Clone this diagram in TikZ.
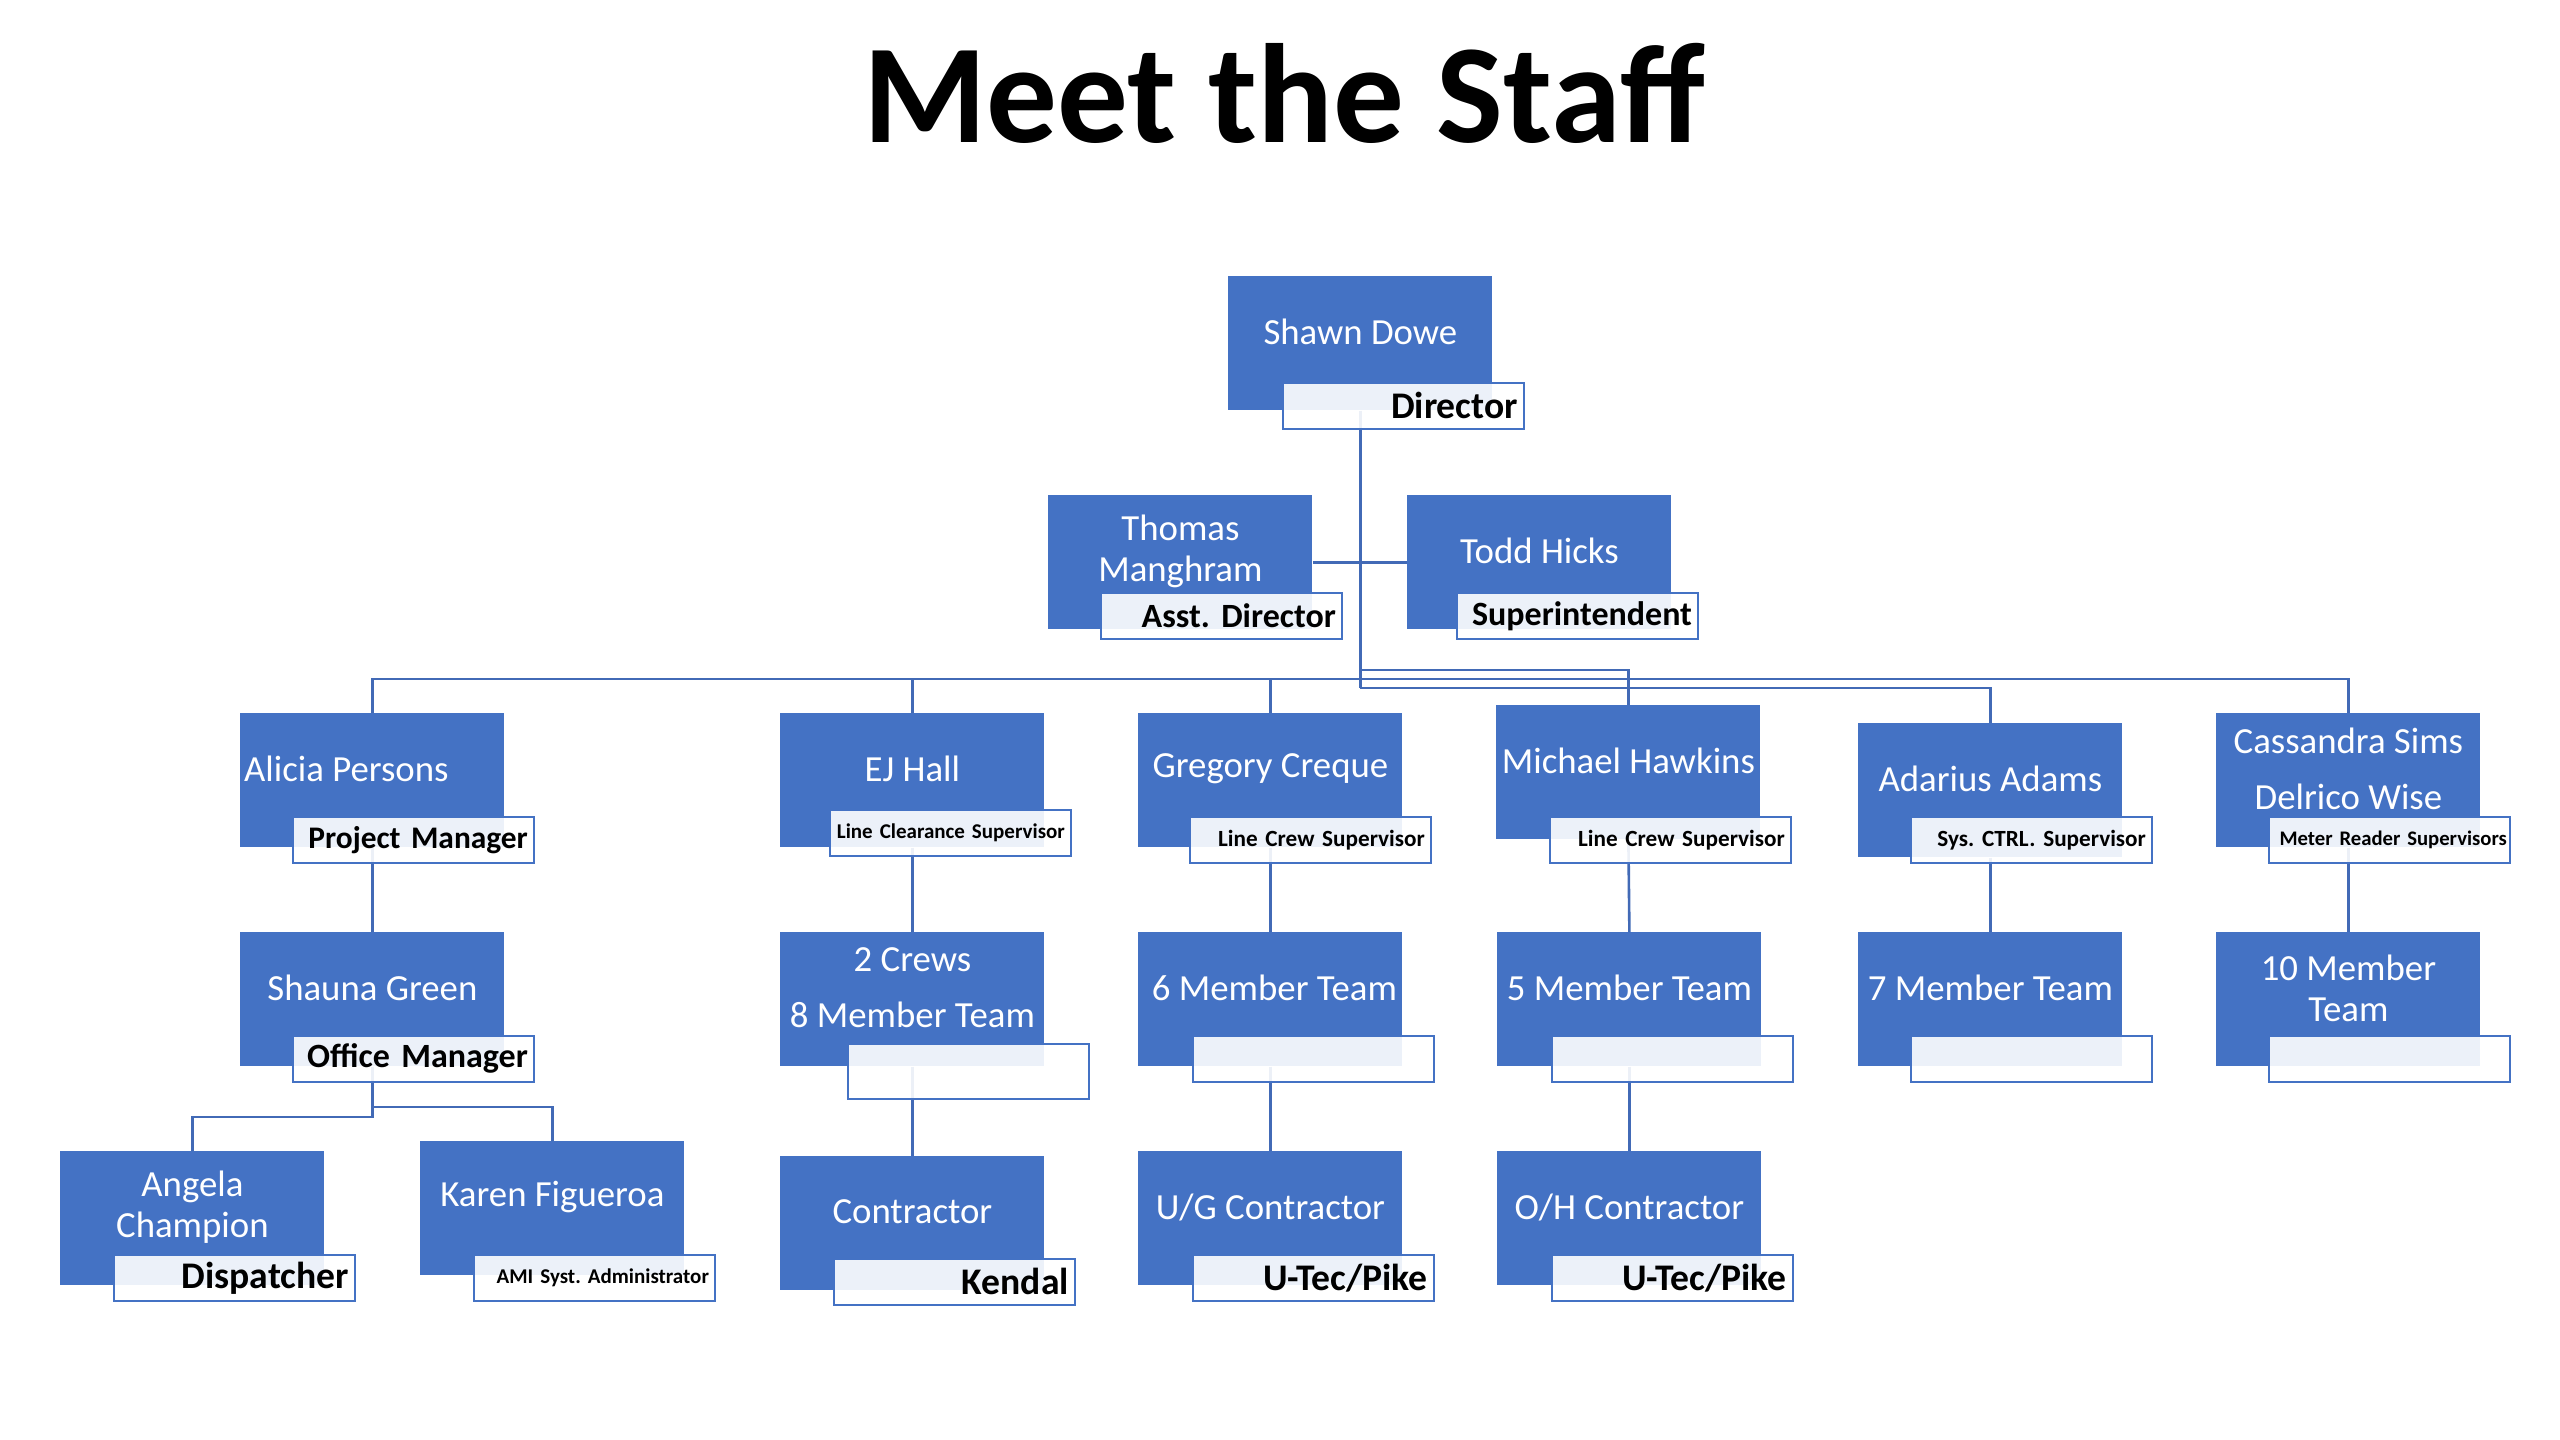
\documentclass[tikz,border=0pt]{standalone}
\usepackage{fontspec}
\setmainfont{Carlito}
\frenchspacing
\definecolor{boxblue}{RGB}{68,114,196}
\definecolor{lineblue}{RGB}{66,106,182}
\tikzset{
  bluebox/.style={fill=boxblue, draw=none, minimum width=132pt, minimum height=67pt, inner sep=0pt, anchor=north west},
  lab/.style={draw=boxblue, line width=0.9pt, fill=white, fill opacity=0.9, text opacity=1, minimum width=120.5pt, minimum height=23pt, inner xsep=3pt, inner ysep=0pt, text width=114.5pt, align=right, anchor=north west, text=black, font=\bfseries\frenchspacing},
  tall/.style={minimum height=27.5pt},
  nm/.style={text=white, align=center, font=\fontsize{18.4pt}{20.5pt}\selectfont, inner sep=0pt},
  wide/.style={font=\fontsize{18.4pt}{28pt}\selectfont},
  conn/.style={draw=lineblue, line width=1.3pt},
  fA/.style={font=\bfseries\fontsize{18.8pt}{20pt}\selectfont},
  fB/.style={font=\bfseries\fontsize{17pt}{20pt}\selectfont},
  fC/.style={font=\bfseries\fontsize{15.7pt}{19pt}\selectfont},
  fD/.style={font=\bfseries\fontsize{17pt}{19pt}\selectfont},
  fS/.style={font=\bfseries\fontsize{11.6pt}{13pt}\selectfont},
  fT/.style={font=\bfseries\fontsize{10.5pt}{12pt}\selectfont},
  fU/.style={font=\bfseries\fontsize{10.35pt}{12pt}\selectfont, inner xsep=1.5pt, text width=117.5pt},
}
\begin{document}
\begin{tikzpicture}[x=0.5pt, y=-0.5pt]
\fill[white] (0,0) rectangle (2560,1440);
\useasboundingbox (0,0) rectangle (2560,1440);

\node[font=\bfseries\fontsize{70.6pt}{80pt}\selectfont, anchor=base, inner sep=0pt] (title) at (1284,142) {Meet the Staff};

% blue boxes
\node[bluebox] (shawn) at (1228,276) {};
\node[bluebox] (thomas) at (1048,495) {};
\node[bluebox] (todd) at (1407,495) {};
\node[bluebox] (alicia) at (240,713) {};
\node[bluebox] (ej) at (780,713) {};
\node[bluebox] (greg) at (1138,713) {};
\node[bluebox] (mich) at (1496,705) {};
\node[bluebox] (ada) at (1858,723) {};
\node[bluebox] (cass) at (2216,713) {};
\node[bluebox] (shauna) at (240,932) {};
\node[bluebox] (crews) at (780,932) {};
\node[bluebox] (six) at (1138,932) {};
\node[bluebox] (five) at (1497,932) {};
\node[bluebox] (seven) at (1858,932) {};
\node[bluebox] (ten) at (2216,932) {};
\node[bluebox] (ang) at (60,1151) {};
\node[bluebox] (kar) at (420,1141) {};
\node[bluebox] (con) at (780,1156) {};
\node[bluebox] (ug) at (1138,1151) {};
\node[bluebox] (oh) at (1497,1151) {};

% connectors
\draw[conn] (shawn.south) -- (shawn.south |- 0,688);
\draw[conn] (thomas.east) -- (todd.west);
\draw[conn] (alicia.north) -- (alicia.north |- 0,679) -- (cass.north |- 0,679) -- (cass.north);
\draw[conn] (ej.north) -- (ej.north |- 0,679);
\draw[conn] (greg.north) -- (greg.north |- 0,679);
\draw[conn] (shawn.south |- 0,670) -| (mich.north);
\draw[conn] (shawn.south |- 0,688) -| (ada.north);
\draw[conn] (alicia.south) -- (shauna.north);
\draw[conn] (ej.south) -- (crews.north);
\draw[conn] (greg.south) -- (six.north);
\draw[conn] (mich.south) -- (five.north);
\draw[conn] (ada.south) -- (seven.north);
\draw[conn] (cass.south) -- (ten.north);
\draw[conn] (shauna.south) -- (shauna.south |- 0,1117) -| (ang.north);
\draw[conn] (shauna.south |- 0,1107) -| (kar.north);
\draw[conn] (crews.south) -- (con.north);
\draw[conn] (six.south) -- (ug.north);
\draw[conn] (five.south) -- (oh.north);

% names
\node[nm] (shawnT) at ([yshift=-28pt]shawn.north) {Shawn Dowe};
\node[nm] (thomasT) at ([yshift=-28pt]thomas.north) {Thomas\\Manghram};
\node[nm] (toddT) at ([yshift=-28pt]todd.north) {Todd Hicks};
\node[nm] (aliciaT) at ([xshift=-13pt,yshift=-28pt]alicia.north) {Alicia Persons};
\node[nm] (ejT) at ([yshift=-28pt]ej.north) {EJ Hall};
\node[nm] (gregT) at ([yshift=-28pt]greg.north) {Gregory Creque};
\node[nm] (michT) at ([yshift=-28pt]mich.north) {Michael Hawkins};
\node[nm] (adaT) at ([yshift=-28pt]ada.north) {Adarius Adams};
\node[nm, wide] (cassT) at ([yshift=-28pt]cass.north) {Cassandra Sims\\Delrico Wise};
\node[nm] (shaunaT) at ([yshift=-28pt]shauna.north) {Shauna Green};
\node[nm, wide] (crewsT) at ([yshift=-28pt]crews.north) {2 Crews\\8 Member Team};
\node[nm] (sixT) at ([xshift=2pt,yshift=-28pt]six.north) {6 Member Team};
\node[nm] (fiveT) at ([yshift=-28pt]five.north) {5 Member Team};
\node[nm] (sevenT) at ([yshift=-28pt]seven.north) {7 Member Team};
\node[nm] (tenT) at ([yshift=-28pt]ten.north) {10 Member\\Team};
\node[nm] (angT) at ([yshift=-28pt]ang.north) {Angela\\Champion};
\node[nm] (karT) at ([yshift=-28pt]kar.north) {Karen Figueroa};
\node[nm] (conT) at ([yshift=-28pt]con.north) {Contractor};
\node[nm] (ugT) at ([yshift=-28pt]ug.north) {U/G Contractor};
\node[nm] (ohT) at ([yshift=-28pt]oh.north) {O/H Contractor};

% labels
\node[lab, fA] (shawnL) at (1282,382) {Director};
\node[lab, fB] (thomasL) at (1100,592) {Asst. Director};
\node[lab, fB] (toddL) at (1456,592) {Superintendent};
\node[lab, fC] (aliciaL) at (292,816) {Project Manager};
\node[lab, fT] (ejL) at (829,809) {Line Clearance Supervisor};
\node[lab, fS] (gregL) at (1189,816) {Line Crew Supervisor};
\node[lab, fS] (michL) at (1549,816) {Line Crew Supervisor};
\node[lab, fS] (adaL) at (1910,816) {Sys. CTRL. Supervisor};
\node[lab, fU] (cassL) at (2268,816) {Meter Reader Supervisors};
\node[lab, fD] (shaunaL) at (292,1035) {Office Manager};
\node[lab, tall] (crewsL) at (847,1043) {};
\node[lab] (sixL) at (1192,1035) {};
\node[lab] (fiveL) at (1551,1035) {};
\node[lab] (sevenL) at (1910,1035) {};
\node[lab] (tenL) at (2268,1035) {};
\node[lab, fA] (angL) at (113,1254) {Dispatcher};
\node[lab, fT] (karL) at (473,1254) {AMI Syst. Administrator};
\node[lab, fA] (conL) at (833,1258) {Kendal};
\node[lab, fA] (ugL) at (1192,1254) {U-Tec/Pike};
\node[lab, fA] (ohL) at (1551,1254) {U-Tec/Pike};
\end{tikzpicture}
\end{document}
